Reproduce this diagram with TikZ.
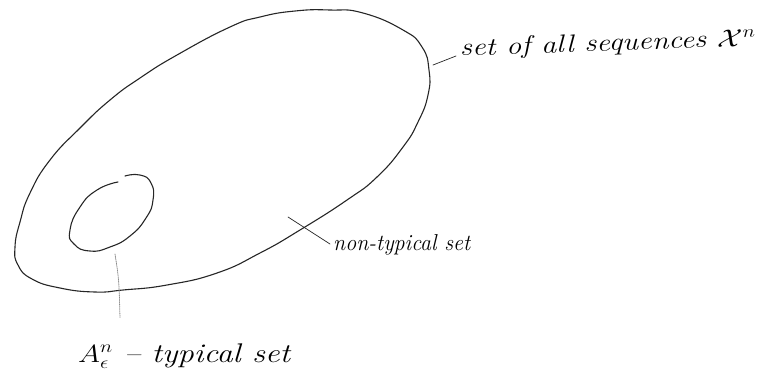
\documentclass[tikz,border=0pt]{standalone}
\usepackage{fontspec}
\setmainfont{Latin Modern Roman}
\begin{document}
\begin{tikzpicture}[x=1pt,y=-1pt,
  setline/.style={line width=1.1pt, line cap=round, line join=round, black!85},
  leader/.style={line width=0.7pt, line cap=round, black!85},
  faintleader/.style={line width=0.8pt, line cap=round, black!45, densely dotted},
  lbl/.style={inner sep=0pt}]
\useasboundingbox (0,0) rectangle (766,381);

% big set: all sequences
\draw[setline] plot[smooth cycle, tension=0.85] coordinates {
  (15,247) (20,222) (30,193) (50,160) (80,128) (110,100) (140,78)
  (177,55) (230,27) (260,17) (295,11) (330,10) (363,13) (403,30)
  (422,47) (429,70) (428,95) (418,122) (403,147) (377,177) (347,200)
  (300,230) (260,253) (217,273) (167,285) (123,290) (95,292) (60,288)
  (32,279) (18,265)};

% small set: typical set (open at the top)
\draw[setline] plot[smooth, tension=0.9] coordinates {
  (125,176) (140,175) (151,183) (153,200) (146,218) (130,236)
  (110,247) (90,251) (74,244) (70,230) (80,207) (97,190) (118,182)};

% labels
\node[lbl, anchor=base west, rotate=2] (allseq) at (460,56)
  {\fontsize{25}{30}\selectfont\itshape\resizebox{296pt}{\height}{set of all sequences $\mathcal{X}^n$}};
\node[lbl, anchor=base west] (nontyp) at (333,250)
  {\fontsize{23}{27}\selectfont\itshape\resizebox{137pt}{\height}{non-typical set}};
\node[lbl, anchor=base west] (typ) at (78,362)
  {\fontsize{27}{32}\selectfont\itshape\resizebox{212pt}{\height}{$A^{n}_{\epsilon}$ -- typical set}};

% leaders
\coordinate (allA) at (433,65);
\coordinate (allB) at (456,56);
\draw[leader] (allA) -- (allB);

\coordinate (ntA) at (288,217);
\coordinate (ntB) at (330,244);
\draw[leader] (ntA) -- (ntB);

\coordinate (tyA) at (115,254);
\coordinate (tyB) at (120,318);
\draw[faintleader] (tyA) .. controls (119,280) .. (tyB);
\end{tikzpicture}
\end{document}
